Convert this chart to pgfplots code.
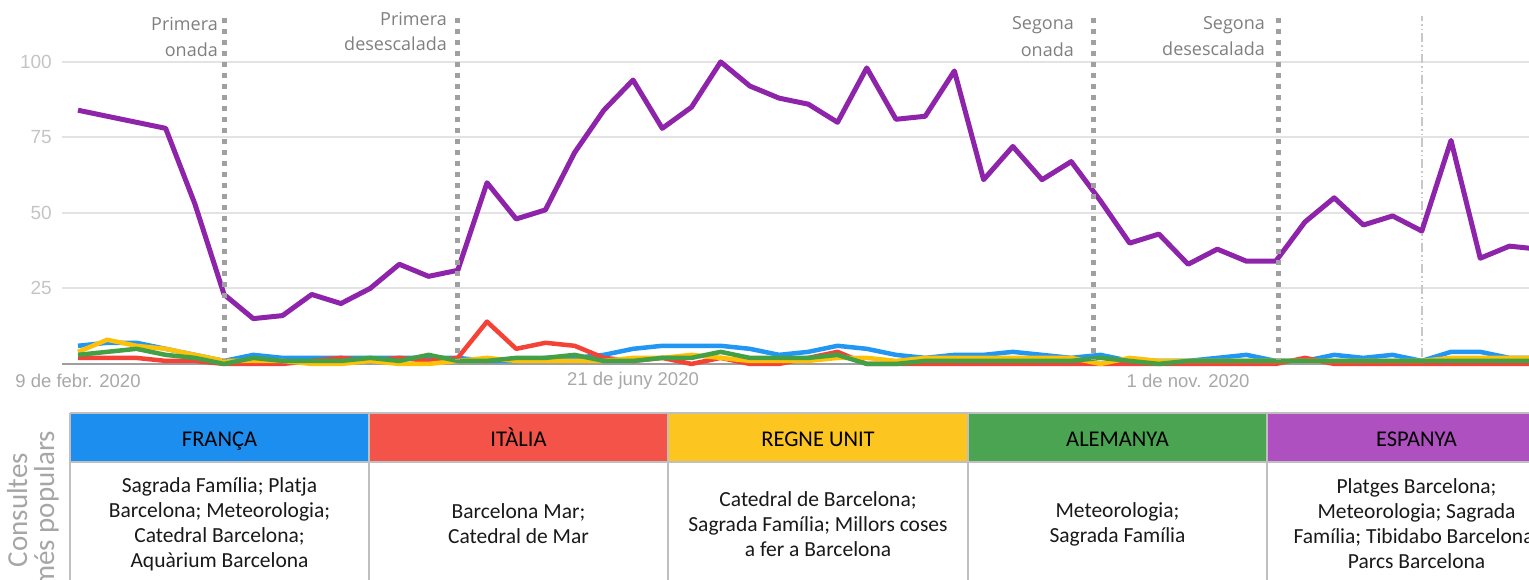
\documentclass[border=0pt]{standalone}
\usepackage{pgfplots}
\usepackage{pgfplotstable}
\pgfplotsset{compat=1.18}
\usepackage{fontspec}
\setmainfont{Carlito}
\newfontfamily\annfont{Open Sans}
\newfontfamily\tickfont{Liberation Sans}

\definecolor{cFR}{HTML}{2196F3}
\definecolor{cIT}{HTML}{F44336}
\definecolor{cUK}{HTML}{FFC107}
\definecolor{cDE}{HTML}{43A047}
\definecolor{cES}{HTML}{8E24AA}
\definecolor{hFR}{HTML}{1B8EF0}
\definecolor{hIT}{HTML}{F4534A}
\definecolor{hUK}{HTML}{FCC51F}
\definecolor{hDE}{HTML}{4AA451}
\definecolor{hES}{HTML}{AE50BF}
\definecolor{gridgray}{HTML}{E3E3E3}
\definecolor{basegray}{HTML}{9E9E9E}
\definecolor{dotgray}{HTML}{A0A0A0}
\definecolor{dashgray}{HTML}{C8C8C8}
\definecolor{anngray}{HTML}{7F7F7F}
\definecolor{ytickgray}{HTML}{C4C4C4}
\definecolor{xtickgray}{HTML}{A8A8A8}
\definecolor{bordergray}{HTML}{BFBFBF}
\definecolor{sidegray}{HTML}{A6A6A6}

\pgfplotstableread{
w  FR IT UK DE ES
0  6  2  4  3  84
1  7  2  8  4  82
2  7  2  6  5  80
3  5  1  5  3  78
4  3  1  3  2  53
5  1  0  1  0  23
6  3  0  1  2  15
7  2  0  1  1  16
8  2  1  0  1  23
9  2  2  0  1  20
10 2  1  1  2  25
11 2  2  0  1  33
12 2  1  0  3  29
13 2  2  1  1  31
14 1  14 2  1  60
15 1  5  1  2  48
16 2  7  1  2  51
17 2  6  1  3  70
18 3  2  1  1  84
19 5  1  2  1  94
20 6  2  2  2  78
21 6  0  3  2  85
22 6  2  2  4  100
23 5  0  1  2  92
24 3  0  1  2  88
25 4  2  1  2  86
26 6  4  2  3  80
27 5  0  2  0  98
28 3  0  1  0  81
29 2  0  2  1  82
30 3  0  2  1  97
31 3  0  2  1  61
32 4  0  2  1  72
33 3  0  2  1  61
34 2  0  2  1  67
35 3  0  0  2  54
36 1  0  2  1  40
37 1  0  1  0  43
38 1  0  1  1  33
39 2  0  1  1  38
40 3  0  1  1  34
41 1  0  1  1  34
42 1  2  1  1  47
43 3  0  1  1  55
44 2  0  1  1  46
45 3  0  1  1  49
46 1  0  1  1  44
47 4  0  2  1  74
48 4  0  2  1  35
49 2  0  2  1  39
50 2  0  2  1  38
}\datatable

\begin{document}
\begin{tikzpicture}[x=1pt,y=1pt]
\useasboundingbox (0,0) rectangle (1529,580);
\clip (0,0) rectangle (1529,580);
\begin{axis}[
  at={(62pt,207pt)}, anchor=south west,
  scale only axis, width=1467pt, height=356.4pt,
  xmin=-0.548, xmax=49.67, ymin=-3, ymax=115,
  axis line style={draw=none},
  major tick length=0pt,
  ytick={25,50,75,100},
  yticklabels={25,50,75,100},
  ymajorgrids,
  grid style={gridgray, line width=2pt},
  xtick={0,19,38},
  xticklabels={9 de febr. 2020, 21 de juny 2020, 1 de nov. 2020},
  yticklabel style={font=\tickfont\fontsize{19}{19}\selectfont, text=ytickgray, anchor=east, inner sep=0pt, xshift=-10pt},
  xticklabel style={font=\tickfont\fontsize{18.5}{18.5}\selectfont, text=xtickgray, anchor=center, inner sep=0pt, yshift=-8pt},
  /pgf/number format/assume math mode=true,
  line join=round,
]
\draw[basegray, line width=1.5pt] (axis cs:-0.548,0) -- (axis cs:49.67,0);
\draw[dashgray, line width=1.5pt, dash pattern=on 9pt off 3pt on 1.5pt off 3pt on 1.5pt off 3pt] (axis cs:46.0,116.5) -- (axis cs:46.0,2);
\addplot[cFR, line width=4.5pt, line join=round] table[x=w,y=FR]{\datatable};
\addplot[cIT, line width=4.5pt, line join=round] table[x=w,y=IT]{\datatable};
\addplot[cUK, line width=4.5pt, line join=round] table[x=w,y=UK]{\datatable};
\addplot[cDE, line width=4.5pt, line join=round] table[x=w,y=DE]{\datatable};
\addplot[cES, line width=5pt, line join=round] table[x=w,y=ES]{\datatable};
\foreach \xv in {5.03,13.0,34.75,41.1}{
  \edef\tmp{\noexpand\draw[dotgray, line width=5pt, dash pattern=on 5pt off 6pt] (axis cs:\xv,114.6) -- (axis cs:\xv,1.5);}
  \tmp
}
\end{axis}
% annotations
\begin{scope}[every node/.style={font=\annfont\fontsize{18}{18}\selectfont, text=anngray, inner sep=0pt, anchor=base east}]
\node at (218,549) {Primera};
\node at (218,523) {onada};
\node at (447,554) {Primera};
\node at (447,529) {desescalada};
\node at (1074,550) {Segona};
\node at (1074,523) {onada};
\node at (1265,550) {Segona};
\node at (1265,524) {desescalada};
\end{scope}
% table
\fill[hFR] (70,118) rectangle (369,167);
\fill[hIT] (369,118) rectangle (668,167);
\fill[hUK] (668,118) rectangle (968,167);
\fill[hDE] (968,118) rectangle (1267,167);
\fill[hES] (1267,118) rectangle (1566,167);
\draw[bordergray, line width=2.5pt] (70,167) -- (1566,167);
\draw[bordergray, line width=2.5pt] (70,118) -- (1566,118);
\foreach \xx in {70,369,668,968,1267,1566}{
  \draw[bordergray, line width=2.5pt] (\xx,167) -- (\xx,-10);
}
\begin{scope}[every node/.style={font=\fontsize{22.5}{22.5}\selectfont, text=black, inner sep=0pt, anchor=base}]
\node at (219.5,133) {FRANÇA};
\node at (518.5,133) {ITÀLIA};
\node at (818,133) {REGNE UNIT};
\node at (1117.5,133) {ALEMANYA};
\node at (1416.5,133) {ESPANYA};
\end{scope}
\begin{scope}[every node/.style={font=\fontsize{21.5}{25}\selectfont, text=black!90, inner sep=0pt, anchor=center, align=center}]
\node at (219.5,56) {Sagrada Família; Platja\\Barcelona; Meteorologia;\\Catedral Barcelona;\\Aquàrium Barcelona};
\node at (518.5,56) {Barcelona Mar;\\Catedral de Mar};
\node at (818,56) {Catedral de Barcelona;\\Sagrada Família; Millors coses\\a fer a Barcelona};
\node at (1117.5,56) {Meteorologia;\\Sagrada Família};
\node at (1416.5,56) {Platges Barcelona;\\Meteorologia; Sagrada\\Família; Tibidabo Barcelona;\\Parcs Barcelona};
\end{scope}
\node[rotate=90, align=center, font=\fontsize{29}{27}\selectfont, text=sidegray, inner sep=0pt] at (33,70) {Consultes\\més populars};
\end{tikzpicture}
\end{document}
